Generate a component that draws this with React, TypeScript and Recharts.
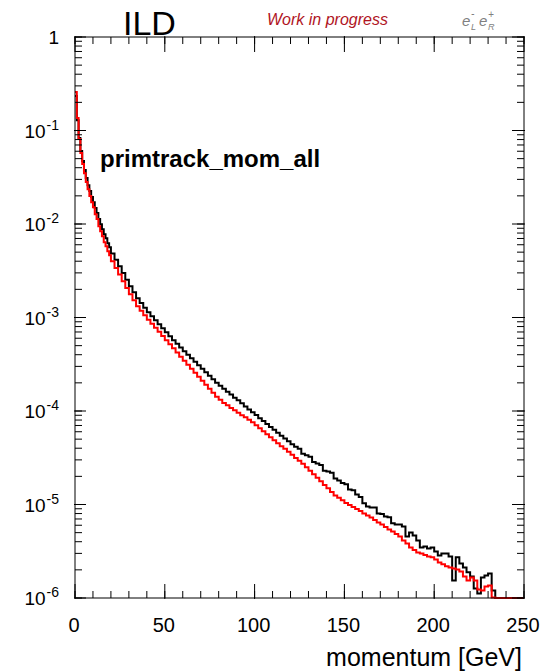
import { LineChart, Line, XAxis, YAxis } from "recharts";

// bin layout: 1 GeV bins up to 20 GeV, 2 GeV bins after that
const FINE_WIDTH = 1;
const FINE_END = 20;
const COARSE_WIDTH = 2;
const X_MAX = 250;

const BLACK_FINE = [
  2.34e-1, 1.29e-1, 8.3e-2, 6.02e-2, 4.71e-2, 3.77e-2, 3.1e-2, 2.6e-2, 2.25e-2, 1.94e-2,
  1.71e-2, 1.48e-2, 1.31e-2, 1.13e-2, 9.96e-3, 8.81e-3, 7.78e-3, 7.05e-3, 6.23e-3, 5.65e-3,
];
const RED_FINE = [
  2.58e-1, 1.36e-1, 8.09e-2, 5.73e-2, 4.37e-2, 3.5e-2, 2.81e-2, 2.36e-2, 1.99e-2, 1.71e-2,
  1.51e-2, 1.27e-2, 1.13e-2, 9.48e-3, 8.38e-3, 7.41e-3, 6.39e-3, 5.79e-3, 5.12e-3, 4.64e-3,
];

const BLACK = [
  4.85e-3, 4.14e-3, 3.54e-3, 2.99e-3, 2.53e-3, 2.16e-3, 1.86e-3, 1.61e-3, 1.43e-3, 1.27e-3,
  1.14e-3, 1.03e-3, 9.35e-4, 8.47e-4, 7.67e-4, 6.95e-4, 6.3e-4, 5.71e-4, 5.23e-4, 4.78e-4,
  4.35e-4, 3.99e-4, 3.66e-4, 3.36e-4, 3.08e-4, 2.83e-4, 2.6e-4, 2.38e-4, 2.18e-4, 2.0e-4,
  1.86e-4, 1.73e-4, 1.61e-4, 1.5e-4, 1.39e-4, 1.3e-4, 1.21e-4, 1.12e-4, 1.04e-4, 9.7e-5,
  9.04e-5, 8.39e-5, 7.81e-5, 7.27e-5, 6.75e-5, 6.29e-5, 5.84e-5, 5.44e-5, 5.08e-5, 4.74e-5,
  4.42e-5, 4.14e-5, 3.95e-5, 3.5e-5, 3.37e-5, 3.25e-5, 2.85e-5, 2.75e-5, 2.65e-5, 2.3e-5,
  2.25e-5, 2.18e-5, 1.9e-5, 1.81e-5, 1.7e-5, 1.65e-5, 1.45e-5, 1.42e-5, 1.28e-5, 1.2e-5,
  1.03e-5, 9.54e-6, 9.31e-6, 9.3e-6, 8.0e-6, 7.93e-6, 7.46e-6, 7.3e-6, 6.3e-6, 6.12e-6,
  6.12e-6, 5.83e-6, 4.56e-6, 5.03e-6, 4.67e-6, 4.13e-6, 3.47e-6, 3.56e-6, 3.39e-6, 3.47e-6,
  3.15e-6, 2.85e-6, 3.0e-6, 3.0e-6, 2.78e-6, 1.54e-6, 2.72e-6, 2.34e-6, 2.12e-6, 1.88e-6,
  1.7e-6, 1.26e-6, 1.12e-6, 1.66e-6, 1.74e-6, 1.83e-6, 1.2e-6, 1e-6, 1e-6, 1e-6,
  1e-6, 1e-6, 1e-6, 1e-6, 1e-6,
];
const RED = [
  4.0e-3, 3.38e-3, 2.88e-3, 2.44e-3, 2.07e-3, 1.77e-3, 1.53e-3, 1.32e-3, 1.18e-3, 1.06e-3,
  9.46e-4, 8.58e-4, 7.77e-4, 7.02e-4, 6.33e-4, 5.72e-4, 5.17e-4, 4.68e-4, 4.22e-4, 3.81e-4,
  3.44e-4, 3.12e-4, 2.83e-4, 2.56e-4, 2.32e-4, 2.1e-4, 1.91e-4, 1.73e-4, 1.57e-4, 1.42e-4,
  1.32e-4, 1.22e-4, 1.15e-4, 1.08e-4, 1.02e-4, 9.56e-5, 8.99e-5, 8.56e-5, 8.05e-5, 7.56e-5,
  7.03e-5, 6.53e-5, 6.06e-5, 5.63e-5, 5.23e-5, 4.86e-5, 4.51e-5, 4.19e-5, 3.94e-5, 3.66e-5,
  3.4e-5, 3.15e-5, 2.93e-5, 2.72e-5, 2.5e-5, 2.29e-5, 2.1e-5, 1.93e-5, 1.77e-5, 1.62e-5,
  1.49e-5, 1.36e-5, 1.25e-5, 1.18e-5, 1.11e-5, 1.04e-5, 9.9e-6, 9.43e-6, 8.97e-6, 8.54e-6,
  8.03e-6, 7.64e-6, 7.28e-6, 6.84e-6, 6.43e-6, 6.12e-6, 5.76e-6, 5.41e-6, 5.15e-6, 4.85e-6,
  4.56e-6, 4.13e-6, 3.83e-6, 3.47e-6, 3.27e-6, 3.07e-6, 3.0e-6, 2.89e-6, 2.78e-6, 2.72e-6,
  2.58e-6, 2.4e-6, 2.29e-6, 2.18e-6, 2.12e-6, 2.07e-6, 2.02e-6, 1.92e-6, 1.7e-6, 1.54e-6,
  1.66e-6, 1.54e-6, 1.23e-6, 1.2e-6, 1.33e-6, 1.36e-6, 1.01e-6, 1e-6, 1e-6, 1e-6,
  1e-6, 1e-6, 1e-6, 1e-6, 1e-6,
];

const X_TICKS = [
  0, 10, 20, 30, 40, 50, 60, 70, 80, 90, 100, 110, 120, 130, 140, 150, 160, 170, 180, 190,
  200, 210, 220, 230, 240, 250,
];
const X_LABELS = [0, 50, 100, 150, 200, 250];
const Y_DECADES = [-6, -5, -4, -3, -2, -1, 0];
const Y_MINOR = [2, 3, 4, 5, 6, 7, 8, 9];

const FONT = "'Liberation Sans', Arial, Helvetica, sans-serif";

// histogram rows, drawn as stepAfter
const data: { x: number; black: number; red: number }[] = [];
BLACK_FINE.forEach((b, i) => data.push({ x: i * FINE_WIDTH, black: b, red: RED_FINE[i] }));
BLACK.forEach((b, i) => data.push({ x: FINE_END + i * COARSE_WIDTH, black: b, red: RED[i] }));
data.push({ x: X_MAX, black: BLACK[BLACK.length - 1], red: RED[RED.length - 1] });

const yMajor = Y_DECADES.map((d) => Math.pow(10, d));
const yAll: number[] = [];
Y_DECADES.forEach((d) => {
  yAll.push(Math.pow(10, d));
  if (d < 0) Y_MINOR.forEach((m) => yAll.push(m * Math.pow(10, d)));
});

function NoTick() {
  return null;
}

function BottomLabel({ x, y, payload }: any) {
  return (
    <text x={x - 1} y={y + 33} textAnchor="middle" fontSize={20} fontFamily={FONT} fill="#000">
      {payload.value}
    </text>
  );
}

function LeftLabel({ x, y, payload }: any) {
  const e = Math.round(Math.log10(payload.value));
  return (
    <text x={x - 15} y={y + 7} textAnchor="end" fontSize={19} fontFamily={FONT} fill="#000">
      {e === 0 ? (
        "1"
      ) : (
        <>
          <tspan>10</tspan>
          <tspan dx={1} dy={-8} fontSize={14}>
            {e}
          </tspan>
        </>
      )}
    </text>
  );
}

const xCommon = {
  dataKey: "x",
  type: "number" as const,
  domain: [0, X_MAX],
  interval: 0 as const,
  stroke: "#000",
};
const yCommon = {
  dataKey: "black",
  type: "number" as const,
  scale: "log" as const,
  domain: [1e-6, 1],
  interval: 0 as const,
  stroke: "#000",
};

// axis ids: the lowest id on a side sits next to the frame, so the
// minor-tick axes (with the frame line) get 0 / 2 and the others 1 / 3
export default function App() {
  return (
    <div style={{ position: "absolute", left: 0, top: 0, width: 548, height: 671, background: "#fff" }}>
      <LineChart width={548} height={671} data={data} margin={{ top: 35, right: 22, bottom: 0, left: 0 }}>
        <XAxis {...xCommon} xAxisId={0} ticks={X_TICKS} height={1} tickSize={-7} tick={<NoTick />} />
        <XAxis
          {...xCommon}
          xAxisId={1}
          ticks={X_LABELS}
          height={72}
          tickSize={-15}
          tickMargin={15}
          axisLine={false}
          tick={<BottomLabel />}
        />
        <XAxis
          {...xCommon}
          xAxisId={2}
          orientation="top"
          ticks={X_TICKS}
          height={1}
          tickSize={-7}
          tick={<NoTick />}
        />
        <XAxis
          {...xCommon}
          xAxisId={3}
          orientation="top"
          ticks={X_LABELS}
          height={1}
          tickSize={-16}
          tick={<NoTick />}
          axisLine={false}
        />
        <YAxis {...yCommon} yAxisId={0} ticks={yAll} width={1} tickSize={-7} tick={<NoTick />} />
        <YAxis
          {...yCommon}
          yAxisId={1}
          ticks={yMajor}
          width={74}
          tickSize={-12}
          tickMargin={12}
          axisLine={false}
          tick={<LeftLabel />}
        />
        <YAxis
          {...yCommon}
          yAxisId={2}
          orientation="right"
          ticks={yAll}
          width={1}
          tickSize={-7}
          tick={<NoTick />}
        />
        <YAxis
          {...yCommon}
          yAxisId={3}
          orientation="right"
          ticks={yMajor}
          width={1}
          tickSize={-13}
          tick={<NoTick />}
          axisLine={false}
        />
        <Line
          xAxisId={0}
          yAxisId={0}
          dataKey="black"
          type="stepAfter"
          stroke="#000"
          strokeWidth={2}
          dot={false}
          isAnimationActive={false}
        />
        <Line
          xAxisId={0}
          yAxisId={0}
          dataKey="red"
          type="stepAfter"
          stroke="#ff0000"
          strokeWidth={2}
          dot={false}
          isAnimationActive={false}
        />
      </LineChart>
      <svg
        width={548}
        height={671}
        style={{ position: "absolute", left: 0, top: 0, pointerEvents: "none" }}
        fontFamily={FONT}
      >
        <text x={123} y={35} fontSize={34} fill="#000">
          ILD
        </text>
        <text x={267} y={25} fontSize={16} fontStyle="italic" fill="#b0141e">
          Work in progress
        </text>
        <g fill="#808080" fontStyle="italic">
          <text x={462} y={26} fontSize={15}>e</text>
          <text x={471} y={17} fontSize={10}>-</text>
          <text x={471} y={30} fontSize={9}>L</text>
          <text x={479} y={26} fontSize={15}>e</text>
          <text x={488} y={18} fontSize={10}>+</text>
          <text x={488} y={30} fontSize={9}>R</text>
        </g>
        <text x={100} y={167} fontSize={24} fontWeight="bold" fill="#000">
          primtrack_mom_all
        </text>
        <text x={522} y={666} fontSize={25} textAnchor="end" fill="#000">
          momentum [GeV]
        </text>
      </svg>
    </div>
  );
}
